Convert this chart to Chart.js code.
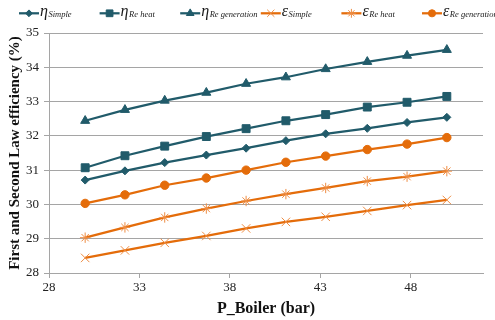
<!DOCTYPE html>
<html>
<head>
<meta charset="utf-8">
<script src="https://cdn.jsdelivr.net/npm/chart.js@4/dist/chart.umd.min.js"></script>
<style>
  html, body { margin: 0; padding: 0; background: #fff; }
  canvas { display: block; }
</style>
</head>
<body>
<canvas id="c" width="495" height="320"></canvas>
<script>
// Boiler pressure (bar)
const pressure = [30, 32.2, 34.4, 36.7, 38.9, 41.1, 43.3, 45.6, 47.8, 50];

// First law (thermal) efficiency, %
const etaSimple = [30.71, 30.98, 31.22, 31.44, 31.64, 31.86, 32.06, 32.22, 32.39, 32.54];
const etaReheat = [31.07, 31.42, 31.70, 31.98, 32.21, 32.44, 32.62, 32.84, 32.98, 33.15];
const etaRegen  = [32.44, 32.76, 33.03, 33.26, 33.52, 33.71, 33.95, 34.16, 34.34, 34.51];

// Second law (exergy) efficiency, %
const exSimple = [28.44, 28.66, 28.88, 29.08, 29.30, 29.49, 29.64, 29.81, 29.98, 30.13];
const exReheat = [29.03, 29.33, 29.62, 29.88, 30.10, 30.30, 30.48, 30.68, 30.81, 30.97];
const exRegen  = [30.03, 30.28, 30.56, 30.77, 31.00, 31.23, 31.41, 31.60, 31.76, 31.95];

// Axis ticks
const xTicks = [28, 33, 38, 43, 48];
const yTicks = [28, 29, 30, 31, 32, 33, 34, 35];

// Legend labels: symbol + subscript
const legendSymbols = ['η', 'η', 'η', 'ε', 'ε', 'ε'];
const legendSubs = ['Simple', 'Re heat', 'Re generation', 'Simple', 'Re heat', 'Re generation'];

const TEAL = '#215B6A';
const ORANGE = '#E46C0A';
const ORANGE_LIGHT = '#EE8D44';
const GRID = '#a5a5a5';
const SERIF = '"Liberation Serif", "Times New Roman", serif';

function series(values, color, style, radius, opts) {
  return Object.assign({
    data: pressure.map((p, i) => ({ x: p, y: values[i] })),
    borderColor: color,
    borderWidth: 2.25,
    pointStyle: style,
    pointRadius: radius,
    pointHoverRadius: radius,
    pointBackgroundColor: color,
    pointBorderColor: color,
    pointBorderWidth: 1,
    showLine: true,
    fill: false,
    tension: 0
  }, opts || {});
}

const datasets = [
  series(etaSimple, TEAL, 'rectRot', 4),
  series(etaReheat, TEAL, 'rect', 5.6),
  series(etaRegen, TEAL, 'triangle', 5.2),
  series(exSimple, ORANGE, 'crossRot', 6, { pointBorderColor: ORANGE_LIGHT }),
  series(exReheat, ORANGE, 'star', 5.2, { pointBorderColor: ORANGE_LIGHT }),
  series(exRegen, ORANGE, 'circle', 4.2)
];

// Legend row along the top, with subscripted Greek labels
const subLegend = {
  id: 'subLegend',
  afterDraw(chart) {
    const ctx = chart.ctx;
    chart.data.datasets.forEach((ds, i) => {
      const x0 = 19 + i * 80.6;
      const y = 13.3;
      ctx.save();
      ctx.strokeStyle = ds.borderColor;
      ctx.lineWidth = 2.25;
      ctx.beginPath();
      ctx.moveTo(x0, y);
      ctx.lineTo(x0 + 20, y);
      ctx.stroke();
      ctx.fillStyle = ds.pointBackgroundColor;
      ctx.strokeStyle = ds.pointBorderColor;
      ctx.lineWidth = ds.pointBorderWidth;
      Chart.helpers.drawPoint(ctx, {
        pointStyle: ds.pointStyle,
        radius: ds.pointRadius * 0.85,
        borderWidth: ds.pointBorderWidth,
        rotation: 0
      }, x0 + 10, y);
      ctx.fillStyle = '#1a1a1a';
      ctx.textBaseline = 'alphabetic';
      ctx.textAlign = 'left';
      ctx.font = 'italic 16px ' + SERIF;
      ctx.fillText(legendSymbols[i], x0 + 21, y + 2.5);
      const w = ctx.measureText(legendSymbols[i]).width;
      ctx.font = 'italic 8.5px ' + SERIF;
      ctx.fillText(legendSubs[i], x0 + 21 + w + 0.5, y + 4);
      ctx.restore();
    });
  }
};

new Chart(document.getElementById('c'), {
  type: 'scatter',
  data: { datasets },
  plugins: [subLegend],
  options: {
    responsive: false,
    animation: false,
    devicePixelRatio: 1,
    layout: { padding: { top: 33, right: 12, left: 0, bottom: 0 } },
    plugins: {
      legend: { display: false },
      tooltip: { enabled: false }
    },
    scales: {
      x: {
        type: 'linear',
        min: 28,
        max: 52,
        afterBuildTicks: s => { s.ticks = xTicks.map(v => ({ value: v })); },
        afterFit: s => { s.height = 47; },
        grid: { drawOnChartArea: false, drawTicks: true, tickLength: 5, color: GRID },
        border: { display: true, color: GRID, width: 1 },
        ticks: { font: { family: SERIF, size: 13 }, color: '#222', padding: 2, maxRotation: 0 },
        title: {
          display: true,
          text: 'P_Boiler (bar)',
          font: { family: SERIF, size: 16, weight: 'bold' },
          color: '#111',
          padding: { top: 0, bottom: 2 }
        }
      },
      y: {
        min: 28,
        max: 35,
        afterBuildTicks: s => { s.ticks = yTicks.map(v => ({ value: v })); },
        afterFit: s => { s.width = 49; },
        grid: { color: GRID, tickLength: 5 },
        border: { display: true, color: GRID, width: 1 },
        ticks: { font: { family: SERIF, size: 13 }, color: '#222', padding: 5 },
        title: {
          display: true,
          text: 'First and Second Law efficiency (%)',
          font: { family: SERIF, size: 15, weight: 'bold' },
          color: '#111',
          padding: { top: 6, bottom: 0 }
        }
      }
    }
  }
});
</script>
</body>
</html>
